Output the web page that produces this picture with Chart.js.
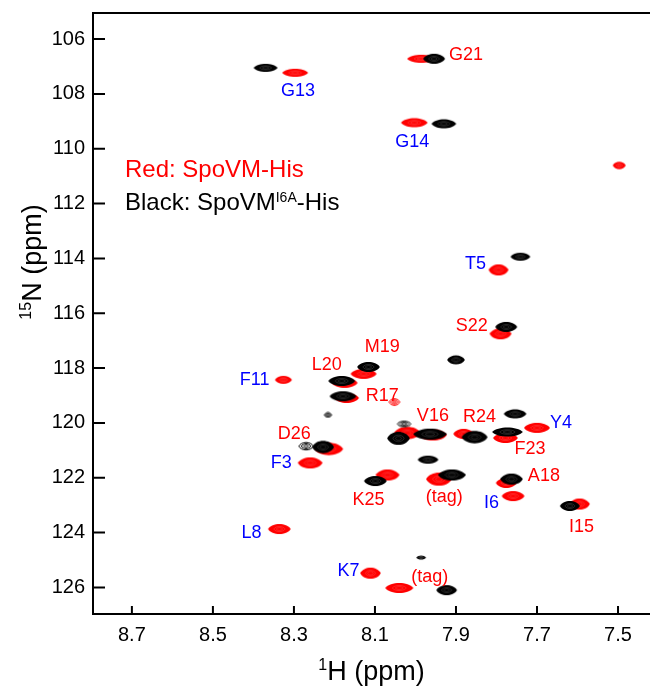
<!DOCTYPE html>
<html lang="en">
<head>
  <meta charset="UTF-8">
  <title>SpoVM-His / SpoVM I6A-His HSQC overlay</title>
  <style>
    body { margin: 0; background: #fff; }
    #chart { display: block; }
  </style>
  <script src="https://cdn.jsdelivr.net/npm/chart.js"></script>
</head>
<body>
  <canvas id="chart" width="653" height="686"></canvas>
  <script>
    const FONT = 'Arial, "Liberation Sans", sans-serif';

    // axis ticks (ppm)
    const xTicks = [8.7, 8.5, 8.3, 8.1, 7.9, 7.7, 7.5];
    const yTicks = [106, 108, 110, 112, 114, 116, 118, 120, 122, 124, 126];

    // SpoVM-His peaks (red): 1H, 15N, linewidths in ppm
    const redH = [7.986, 8.297, 8.003, 7.497, 7.795, 7.790, 8.326, 8.128, 8.175, 8.170, 8.052, 8.214, 8.260,
                  8.020, 7.957, 7.881, 7.778, 7.700, 8.069, 7.942, 7.776, 7.759, 7.595, 8.336, 8.111, 8.040];
    const redN = [106.72, 107.23, 109.05, 110.61, 114.42, 116.75, 118.43, 118.21, 118.54, 119.09, 119.24, 120.95, 121.46,
                  120.37, 120.44, 120.40, 120.55, 120.18, 121.90, 122.05, 122.19, 122.67, 122.96, 123.87, 125.48, 126.02];
    const redLwH = [0.069, 0.064, 0.066, 0.032, 0.049, 0.054, 0.042, 0.064, 0.064, 0.061, 0.029, 0.071, 0.061,
                    0.066, 0.069, 0.051, 0.061, 0.064, 0.059, 0.064, 0.051, 0.056, 0.051, 0.056, 0.051, 0.069];
    const redLwN = [0.29, 0.29, 0.33, 0.26, 0.40, 0.40, 0.29, 0.36, 0.36, 0.36, 0.26, 0.44, 0.40,
                    0.44, 0.40, 0.36, 0.36, 0.36, 0.40, 0.47, 0.36, 0.36, 0.40, 0.36, 0.40, 0.36];
    const redWeak = [10];

    // SpoVM(I6A)-His peaks (black)
    const blackH = [8.370, 7.954, 7.930, 7.741, 7.776, 7.900, 8.116, 8.182, 8.179, 8.216, 8.228, 8.270, 8.028,
                    8.042, 7.964, 7.854, 7.754, 7.773, 7.969, 7.910, 7.763, 7.619, 8.099, 7.986, 7.923];
    const blackN = [107.05, 106.72, 109.09, 113.94, 116.50, 117.70, 117.96, 118.47, 119.03, 119.71, 120.88, 120.85, 120.04,
                    120.56, 120.41, 120.52, 119.67, 120.33, 121.34, 121.90, 122.05, 123.03, 122.12, 124.91, 126.10];
    const blackLwH = [0.059, 0.054, 0.061, 0.049, 0.054, 0.044, 0.056, 0.066, 0.066, 0.020, 0.054, 0.039, 0.037,
                      0.056, 0.083, 0.064, 0.056, 0.076, 0.051, 0.069, 0.056, 0.049, 0.056, 0.024, 0.051];
    const blackLwN = [0.29, 0.36, 0.33, 0.29, 0.36, 0.33, 0.36, 0.36, 0.36, 0.18, 0.44, 0.29, 0.22,
                      0.47, 0.40, 0.44, 0.33, 0.33, 0.29, 0.40, 0.40, 0.36, 0.36, 0.15, 0.36];
    const blackWeak = [9, 11, 12];

    // assignments
    const labelText = ['G21', 'G13', 'G14', 'T5', 'S22', 'M19', 'L20', 'F11', 'R17', 'V16', 'R24', 'Y4',
                       'D26', 'F3', 'F23', 'A18', 'K25', '(tag)', 'I6', 'I15', 'L8', 'K7', '(tag)'];
    const labelH = [7.875, 8.290, 8.008, 7.852, 7.861, 8.082, 8.219, 8.397, 8.082, 7.957, 7.842, 7.641,
                    8.299, 8.331, 7.717, 7.683, 8.116, 7.929, 7.812, 7.590, 8.405, 8.165, 7.965];
    const labelN = [106.60, 107.89, 109.75, 114.20, 116.46, 117.23, 117.89, 118.43, 119.03, 119.74, 119.78, 119.99,
                    120.40, 121.46, 120.95, 121.92, 122.81, 122.70, 122.92, 123.79, 124.01, 125.39, 125.62];
    const labelColor = ['red', 'blue', 'blue', 'blue', 'red', 'red', 'red', 'blue', 'red', 'red', 'red', 'blue',
                        'red', 'blue', 'red', 'red', 'red', 'red', 'blue', 'red', 'blue', 'blue', 'red'];

    const COLORS = { red: '#ff0000', blue: '#0000ff', black: '#000000' };

    // one contour blob, lemon shaped like the 2D peaks
    const contour = (w, h, color, weak) => {
      const cv = document.createElement('canvas');
      cv.width = Math.ceil(w) + 2;
      cv.height = Math.ceil(h) + 2;
      const g = cv.getContext('2d');
      const cx = cv.width / 2, cy = cv.height / 2;
      const lemon = (k) => {
        const a = w / 2 * k, b = h / 2 * k;
        g.beginPath();
        g.moveTo(cx - a, cy);
        g.bezierCurveTo(cx - a * 0.65, cy - b * 1.36, cx + a * 0.65, cy - b * 1.36, cx + a, cy);
        g.bezierCurveTo(cx + a * 0.65, cy + b * 1.36, cx - a * 0.65, cy + b * 1.36, cx - a, cy);
        g.closePath();
      };
      if (weak) {
        g.strokeStyle = color;
        g.lineWidth = 1;
        [0.92, 0.6, 0.3].forEach(k => { lemon(k); g.stroke(); });
      } else {
        g.fillStyle = color;
        lemon(1);
        g.fill();
        g.strokeStyle = 'rgba(255,255,255,0.3)';
        g.lineWidth = 0.5;
        [0.5, 0.28].forEach(k => { lemon(k); g.stroke(); });
      }
      return cv;
    };

    const peakStyle = (lwH, lwN, color, weak) => (c) => {
      if (c.type !== 'data') return 'circle';
      const sx = c.chart.scales.x, sy = c.chart.scales.y;
      const p = c.raw, i = c.dataIndex;
      const w = Math.abs(sx.getPixelForValue(p.x + lwH[i] / 2) - sx.getPixelForValue(p.x - lwH[i] / 2));
      const h = Math.abs(sy.getPixelForValue(p.y + lwN[i] / 2) - sy.getPixelForValue(p.y - lwN[i] / 2));
      return contour(Math.max(w, 2), Math.max(h, 2), color, weak.includes(i));
    };

    // text with a superscript run: parts = [[text, size, raise], ...]
    const drawRuns = (ctx, parts, x, y, color, align) => {
      let total = 0;
      parts.forEach(([t, s]) => { ctx.font = s + 'px ' + FONT; total += ctx.measureText(t).width; });
      let cx = align === 'center' ? x - total / 2 : x;
      ctx.fillStyle = color;
      ctx.textAlign = 'left';
      ctx.textBaseline = 'alphabetic';
      parts.forEach(([t, s, r]) => {
        ctx.font = s + 'px ' + FONT;
        ctx.fillText(t, cx, y - r);
        cx += ctx.measureText(t).width;
      });
    };

    const decorations = {
      id: 'decorations',
      afterDraw(chart) {
        const ctx = chart.ctx;
        const a = chart.chartArea;
        const sx = chart.scales.x, sy = chart.scales.y;
        ctx.save();

        // frame (no right edge visible) and inward ticks
        ctx.strokeStyle = '#000';
        ctx.lineWidth = 2;
        ctx.beginPath();
        ctx.moveTo(a.right + 2, a.top);
        ctx.lineTo(a.left, a.top);
        ctx.lineTo(a.left, a.bottom);
        ctx.lineTo(a.right + 2, a.bottom);
        ctx.stroke();
        ctx.beginPath();
        yTicks.forEach(v => {
          const y = sy.getPixelForValue(v);
          ctx.moveTo(a.left, y);
          ctx.lineTo(a.left + 12, y);
        });
        xTicks.forEach(v => {
          const x = sx.getPixelForValue(v);
          ctx.moveTo(x, a.bottom);
          ctx.lineTo(x, a.bottom - 8);
        });
        ctx.stroke();

        // assignments
        ctx.font = '18px ' + FONT;
        ctx.textAlign = 'center';
        ctx.textBaseline = 'middle';
        labelText.forEach((t, i) => {
          ctx.fillStyle = COLORS[labelColor[i]];
          ctx.fillText(t, sx.getPixelForValue(labelH[i]), sy.getPixelForValue(labelN[i]));
        });

        // sample key
        drawRuns(ctx, [['Red: SpoVM-His', 24, 0]], a.left + 32, a.top + 164, COLORS.red, 'left');
        drawRuns(ctx, [['Black: SpoVM', 24, 0], ['I6A', 14, 8], ['-His', 24, 0]],
                 a.left + 32, a.top + 197, COLORS.black, 'left');

        // axis titles
        drawRuns(ctx, [['1', 16, 10], ['H (ppm)', 27, 0]], 371.5, 680, '#000', 'center');
        ctx.translate(41, 262);
        ctx.rotate(-Math.PI / 2);
        drawRuns(ctx, [['15', 16, 10], ['N (ppm)', 27, 0]], 0, 0, '#000', 'center');

        ctx.restore();
      }
    };

    const noPad = (s) => {
      s.paddingTop = 0; s.paddingBottom = 0; s.paddingLeft = 0; s.paddingRight = 0;
    };

    const chart = new Chart(document.getElementById('chart'), {
      type: 'scatter',
      data: {
        datasets: [
          {
            label: 'SpoVM I6A-His',
            data: blackH.map((h, i) => ({ x: h, y: blackN[i] })),
            pointStyle: peakStyle(blackLwH, blackLwN, COLORS.black, blackWeak),
            pointRadius: 3
          },
          {
            label: 'SpoVM-His',
            data: redH.map((h, i) => ({ x: h, y: redN[i] })),
            pointStyle: peakStyle(redLwH, redLwN, COLORS.red, redWeak),
            pointRadius: 3
          }
        ]
      },
      options: {
        responsive: false,
        animation: false,
        devicePixelRatio: 1,
        layout: { padding: { top: 13, left: 0, right: 0, bottom: 0 } },
        plugins: { legend: { display: false }, tooltip: { enabled: false } },
        scales: {
          x: {
            type: 'linear',
            reverse: true,
            min: 7.426,
            max: 8.796,
            afterBuildTicks: (s) => { s.ticks = xTicks.map(v => ({ value: v })); },
            afterFit: (s) => { s.height = 72; noPad(s); },
            grid: { display: false, drawTicks: false },
            border: { display: false },
            ticks: {
              color: '#000',
              font: { family: FONT, size: 20 },
              padding: 9,
              maxRotation: 0,
              autoSkip: false,
              callback: (v) => Number(v).toFixed(1)
            }
          },
          y: {
            type: 'linear',
            reverse: true,
            min: 105.05,
            max: 126.97,
            afterBuildTicks: (s) => { s.ticks = yTicks.map(v => ({ value: v })); },
            afterFit: (s) => { s.width = 93; noPad(s); },
            grid: { display: false, drawTicks: false },
            border: { display: false },
            ticks: {
              color: '#000',
              font: { family: FONT, size: 20 },
              padding: 8,
              autoSkip: false,
              callback: (v) => String(v)
            }
          }
        }
      },
      plugins: [decorations]
    });
  </script>
</body>
</html>
